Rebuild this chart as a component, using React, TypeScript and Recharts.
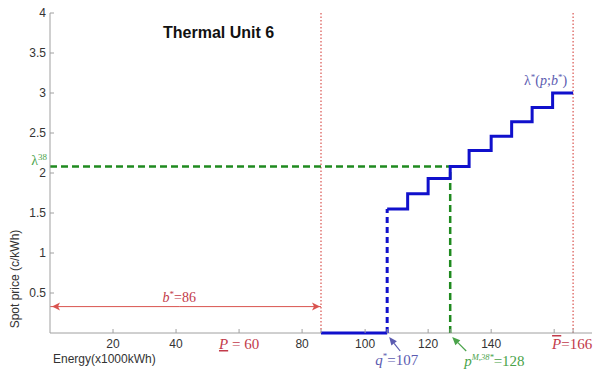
import React from "react";
import { ComposedChart, Line, XAxis, YAxis, ReferenceLine } from "recharts";

// offer curve of the unit (x in 1000 kWh, y in c/kWh)
const flatX = [86, 107];
const flatY = [0, 0];
const stepX = [107, 113.5, 120, 127, 133, 140, 146.5, 153, 159.5, 166];
const stepY = [1.55, 1.74, 1.93, 2.08, 2.28, 2.46, 2.64, 2.82, 3.0, 3.0];

const bStar = 86;
const qStar = 107;
const pM = 127;
const pMin = 60;
const pMax = 166;
const lambda38 = 2.08;
const arrowY = 0.33;
const arrowX = [0, 41, bStar];

const xDomain = [0, 172];
const xTicks = [20, 40, 60, 80, 86, 100, 107, 120, 127, 140, 160, 166];
const xNumLabels = [20, 40, 80, 100, 120, 140];
const yTicks = [0.5, 1, 1.5, 2, 2.5, 3, 3.5, 4];
const yLabels = ["0.5", "1", "1.5", "2", "2.5", "3", "3.5", "4"];

const SANS = "'Liberation Sans', Arial, Helvetica, sans-serif";
const SERIF = "'Liberation Serif', 'Times New Roman', serif";
const BLUE = "#1010cc";
const GREEN = "#1f8a1f";
const RED = "#d9534f";
const LRED = "#c23a4a";
const PURPLE = "#5b5bb0";
const LGREEN = "#4aa34a";
const AXIS = "#a0a0a0";

const toPts = (xs: number[], ys: number[]) => xs.map((x, i) => ({ x, y: ys[i] }));

const baseData = toPts(xDomain, [0, 0]);
const flatData = toPts(flatX, flatY);
const jumpData = toPts([qStar, qStar], [0, stepY[0]]);
const stepData = toPts(stepX, stepY);
const greenH = toPts([0, pM], [lambda38, lambda38]);
const greenV = toPts([pM, pM], [0, lambda38]);
const arrowData = toPts(arrowX, arrowX.map(() => arrowY));

function arrowTo(x1: number, y1: number, x2: number, y2: number, color: string) {
  const a = Math.atan2(y2 - y1, x2 - x1);
  const L = 8, W = 3.5;
  const bx = x2 - L * Math.cos(a), by = y2 - L * Math.sin(a);
  const px = -Math.sin(a) * W, py = Math.cos(a) * W;
  return (
    <g>
      <line x1={x1} y1={y1} x2={bx} y2={by} stroke={color} strokeWidth={1.2} />
      <path d={`M${x2},${y2} L${bx + px},${by + py} L${bx - px},${by - py} Z`} fill={color} />
    </g>
  );
}

function BottomTick(props: any) {
  const { x, y, payload } = props;
  const v = payload.value;
  let label: React.ReactNode = null;
  if (xNumLabels.includes(v)) {
    label = (
      <text x={x} y={y + 15} textAnchor="middle" fontFamily={SANS} fontSize={12} fill="#333">{v}</text>
    );
  } else if (v === pMin) {
    label = (
      <text x={x} y={y + 16} textAnchor="middle" fontFamily={SERIF} fontSize={15} fill={LRED}>
        <tspan fontStyle="italic" style={{ textDecoration: "underline" }}>P</tspan> = {pMin}
      </text>
    );
  } else if (v === qStar) {
    label = (
      <g>
        {arrowTo(x + 13, y + 18, x + 2, y + 4, PURPLE)}
        <text x={x - 12} y={y + 32} fontFamily={SERIF} fontSize={15} fill={PURPLE}>
          <tspan fontStyle="italic">q</tspan>
          <tspan dy={-6} fontSize={9}>*</tspan>
          <tspan dy={6}>={qStar}</tspan>
        </text>
      </g>
    );
  } else if (v === pM) {
    label = (
      <g>
        {arrowTo(x + 16, y + 18, x + 2, y + 4, LGREEN)}
        <text x={x + 14} y={y + 33} fontFamily={SERIF} fontSize={15} fill={LGREEN}>
          <tspan fontStyle="italic">p</tspan>
          <tspan dy={-6} fontSize={8.5} fontStyle="italic">M,38*</tspan>
          <tspan dy={6}>=128</tspan>
        </text>
      </g>
    );
  } else if (v === pMax) {
    label = (
      <text x={x - 21} y={y + 16} fontFamily={SERIF} fontSize={15} fill={LRED}>
        <tspan fontStyle="italic" style={{ textDecoration: "overline" }}>P</tspan>={pMax}
      </text>
    );
  }
  return (
    <g>
      <line x1={x} y1={y} x2={x} y2={y - 4} stroke={AXIS} />
      {label}
    </g>
  );
}

function TopTick(props: any) {
  const { x, y } = props;
  return <line x1={x} y1={y} x2={x} y2={y + 4} stroke={AXIS} />;
}

function LeftTick(props: any) {
  const { x, y, payload } = props;
  const v = payload.value;
  if (v === lambda38) {
    return (
      <text x={x - 3} y={y - 2} textAnchor="end" fontFamily={SERIF} fontSize={14} fill={LGREEN}>
        <tspan>λ</tspan>
        <tspan dy={-5} fontSize={9}>38</tspan>
      </text>
    );
  }
  const idx = yTicks.indexOf(v);
  return (
    <g>
      <line x1={x} y1={y} x2={x + 4} y2={y} stroke={AXIS} />
      <text x={x - 4} y={y + 4} textAnchor="end" fontFamily={SANS} fontSize={12} fill="#333">
        {idx >= 0 ? yLabels[idx] : v}
      </text>
    </g>
  );
}

function RightTick(props: any) {
  const { x, y } = props;
  return <line x1={x} y1={y} x2={x - 4} y2={y} stroke={AXIS} />;
}

const arrowDot = (p: any) => {
  const { cx, cy, index } = p;
  if (index === 0)
    return <path key="a0" d={`M${cx + 2},${cy} l8,-4 l-2,4 l2,4 z`} fill={RED} />;
  if (index === arrowData.length - 1)
    return <path key="a2" d={`M${cx - 1},${cy} l-8,-4 l2,4 l-2,4 z`} fill={RED} />;
  return (
    <text key="a1" x={cx} y={cy - 5} textAnchor="middle" fontFamily={SERIF} fontSize={14} fill={LRED}>
      <tspan fontStyle="italic">b</tspan>
      <tspan dy={-5} fontSize={9}>*</tspan>
      <tspan dy={5}>={bStar}</tspan>
    </text>
  );
};

const stepDot = (p: any) => {
  const { cx, cy, index } = p;
  if (index !== stepData.length - 1) return <g key={`s${index}`} />;
  return (
    <text key="sl" x={cx - 6} y={cy - 8} textAnchor="end" fontFamily={SERIF} fontSize={14} fill={PURPLE}>
      <tspan>λ</tspan>
      <tspan dy={-5} fontSize={9}>*</tspan>
      <tspan dy={5}>(</tspan>
      <tspan fontStyle="italic">p</tspan>
      <tspan>;</tspan>
      <tspan fontStyle="italic">b</tspan>
      <tspan dy={-5} fontSize={9}>*</tspan>
      <tspan dy={5}>)</tspan>
    </text>
  );
};

export default function App() {
  return (
    <div style={{ position: "absolute", left: 0, top: 0, width: 599, height: 371, background: "#fff" }}>
      <ComposedChart width={599} height={371} margin={{ top: 13, right: 7, bottom: 0, left: 0 }}>
        <XAxis
          xAxisId={0}
          type="number"
          dataKey="x"
          domain={xDomain}
          ticks={xTicks}
          interval={0}
          tickSize={0}
          tickMargin={0}
          height={38}
          axisLine={false}
          tick={<BottomTick />}
        />
        <XAxis
          xAxisId="top"
          orientation="top"
          type="number"
          domain={xDomain}
          ticks={xTicks}
          interval={0}
          tickSize={0}
          tickMargin={0}
          height={0}
          stroke={AXIS}
          tick={<TopTick />}
        />
        <YAxis
          yAxisId={0}
          type="number"
          domain={[0, 4]}
          ticks={[...yTicks.slice(0, 4), lambda38, ...yTicks.slice(4)]}
          interval={0}
          tickSize={0}
          tickMargin={0}
          width={50}
          stroke={AXIS}
          tick={<LeftTick />}
        />
        <YAxis
          yAxisId="right"
          orientation="right"
          type="number"
          domain={[0, 4]}
          ticks={yTicks}
          interval={0}
          tickSize={0}
          tickMargin={0}
          width={0}
          stroke={AXIS}
          tick={<RightTick />}
        />
        <ReferenceLine x={bStar} stroke={RED} strokeDasharray="1.5 2" strokeWidth={1.2} />
        <ReferenceLine x={pMax} stroke={RED} strokeDasharray="1.5 2" strokeWidth={1.2} />
        <Line data={baseData} dataKey="y" stroke={AXIS} strokeWidth={1} dot={false} isAnimationActive={false} />
        <Line data={arrowData} dataKey="y" stroke={RED} strokeWidth={1} dot={arrowDot} isAnimationActive={false} />
        <Line data={greenH} dataKey="y" stroke={GREEN} strokeWidth={2.5} strokeDasharray="7 4" dot={false} isAnimationActive={false} />
        <Line data={greenV} dataKey="y" stroke={GREEN} strokeWidth={2.5} strokeDasharray="7 4" dot={false} isAnimationActive={false} />
        <Line data={flatData} dataKey="y" stroke={BLUE} strokeWidth={3} dot={false} isAnimationActive={false} />
        <Line data={jumpData} dataKey="y" stroke={BLUE} strokeWidth={3} strokeDasharray="6 4" dot={false} isAnimationActive={false} />
        <Line data={stepData} type="stepAfter" dataKey="y" stroke={BLUE} strokeWidth={3} dot={stepDot} isAnimationActive={false} />
      </ComposedChart>
      <div style={{ position: "absolute", left: 163, top: 24, fontFamily: SANS, fontWeight: "bold", fontSize: 16, color: "#111" }}>
        Thermal Unit 6
      </div>
      <div style={{ position: "absolute", left: 53, top: 352, fontFamily: SANS, fontSize: 12, color: "#333" }}>
        Energy(x1000kWh)
      </div>
      <div
        style={{
          position: "absolute", left: -55, top: 272, width: 140, textAlign: "center",
          fontFamily: SANS, fontSize: 12, color: "#333", transform: "rotate(-90deg)",
        }}
      >
        Spot price (c/kWh)
      </div>
    </div>
  );
}
